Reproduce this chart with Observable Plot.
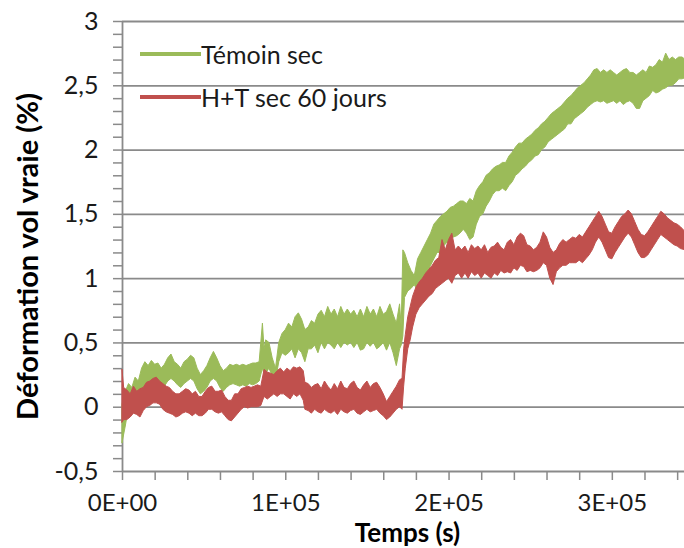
<!DOCTYPE html>
<html>
<head>
<meta charset="utf-8">
<script src="https://cdn.jsdelivr.net/npm/d3@7"></script>
<script src="https://cdn.jsdelivr.net/npm/@observablehq/plot@0.6"></script>
<style>
  html, body { margin: 0; padding: 0; background: #fff; }
  #wrap { position: relative; width: 684px; height: 548px; font-family: Lato, "Open Sans", sans-serif; }
  #legend { position: absolute; left: 140px; top: 32px; font-size: 25px; color: #1a1a1a; }
  #legend .row { display: flex; align-items: center; height: 43px; }
  #legend .sw { width: 61px; height: 4px; margin-right: 0px; }
</style>
</head>
<body>
<div id="wrap"><div id="chart"></div><div id="legend"></div></div>
<script>
// Series names and colours
const seriesNames = ["Témoin sec", "H+T sec 60 jours"];
const seriesColors = ["#9BBB59", "#C0504D"];

// Témoin sec: time (ks), lower and upper edge of the noisy band (%)
const greenT = [0,2,4,6,8,10,12,14,16,18,20,22,24,26,28,30,32,34,36,38,40,42,44,46,48,50,52,54,56,58,60,62,64,66,68,70,72,74,76,78,80,82,84,86,87,88,90,92,94,96,98,100,102,104,106,108,110,112,114,116,118,120,122,124,126,128,130,132,134,136,138,140,142,144,146,148,150,152,154,156,158,160,162,164,166,168,170,171,172,173,175,177,179,181,183,185,187,189,191,193,195,197,199,201,203,205,207,209,211,213,215,217,219,221,223,225,227,229,231,233,235,237,239,241,243,245,247,249,251,253,255,257,259,261,263,265,267,269,271,273,275,277,279,281,283,285,287,289,291,293,295,297,299,301,303,305,307,309,311,313,315,317,319,321,323,325,327,329,331,333,335,337,339,341,343,345];
const greenLo = [-0.28,-0.15,0.0,0.05,0.08,0.05,0.1,0.15,0.18,0.2,0.18,0.17,0.18,0.16,0.2,0.22,0.2,0.17,0.15,0.18,0.2,0.22,0.2,0.14,0.1,0.12,0.15,0.2,0.22,0.2,0.15,0.12,0.15,0.17,0.18,0.17,0.16,0.17,0.16,0.18,0.17,0.18,0.2,0.3,0.25,0.26,0.3,0.24,0.2,0.35,0.42,0.4,0.42,0.45,0.38,0.45,0.42,0.35,0.45,0.45,0.48,0.42,0.5,0.45,0.5,0.48,0.45,0.5,0.46,0.5,0.48,0.5,0.46,0.5,0.44,0.45,0.5,0.47,0.5,0.45,0.47,0.5,0.44,0.5,0.42,0.32,0.45,0.48,0.55,0.85,0.9,0.92,0.95,0.9,0.95,1.0,1.05,1.1,1.15,1.2,1.2,1.25,1.28,1.3,1.32,1.33,1.35,1.38,1.35,1.3,1.32,1.42,1.48,1.5,1.56,1.6,1.65,1.68,1.68,1.7,1.68,1.72,1.75,1.8,1.82,1.85,1.87,1.9,1.92,1.95,1.96,2.0,2.02,2.06,2.08,2.1,2.12,2.14,2.16,2.2,2.2,2.24,2.26,2.28,2.3,2.33,2.35,2.37,2.38,2.37,2.38,2.36,2.37,2.38,2.36,2.38,2.35,2.37,2.38,2.36,2.32,2.32,2.38,2.4,2.42,2.46,2.44,2.45,2.47,2.48,2.5,2.5,2.52,2.55,2.55,2.56];
const greenHi = [0.02,0.12,0.18,0.15,0.23,0.2,0.3,0.35,0.32,0.36,0.33,0.34,0.3,0.33,0.38,0.41,0.35,0.33,0.3,0.35,0.37,0.4,0.38,0.3,0.25,0.28,0.32,0.38,0.43,0.38,0.32,0.28,0.3,0.33,0.32,0.33,0.32,0.33,0.32,0.33,0.34,0.34,0.35,0.65,0.45,0.52,0.5,0.38,0.3,0.5,0.57,0.6,0.65,0.62,0.7,0.73,0.68,0.6,0.62,0.67,0.65,0.72,0.75,0.7,0.78,0.72,0.76,0.7,0.78,0.72,0.76,0.72,0.75,0.7,0.76,0.7,0.78,0.72,0.76,0.7,0.78,0.72,0.74,0.8,0.72,0.65,0.8,0.62,1.22,1.2,1.12,1.06,1.02,1.15,1.2,1.25,1.3,1.35,1.42,1.45,1.48,1.5,1.52,1.55,1.56,1.58,1.6,1.6,1.58,1.62,1.6,1.68,1.72,1.75,1.8,1.82,1.85,1.87,1.88,1.9,1.9,1.95,1.98,2.02,2.05,2.05,2.08,2.1,2.12,2.15,2.17,2.2,2.22,2.25,2.28,2.3,2.32,2.34,2.37,2.4,2.42,2.45,2.48,2.5,2.52,2.55,2.58,2.62,2.63,2.6,2.62,2.6,2.62,2.6,2.58,2.6,2.62,2.63,2.6,2.6,2.58,2.6,2.62,2.6,2.65,2.64,2.66,2.7,2.68,2.75,2.7,2.72,2.7,2.72,2.72,2.7];

// H+T sec 60 jours: time (ks), lower and upper edge of the noisy band (%)
const redT = [0,1,3,5,7,9,11,13,15,17,19,21,23,25,27,29,31,33,35,37,39,41,43,45,47,49,51,53,55,57,59,61,63,65,67,69,71,73,75,77,79,81,83,85,87,89,91,93,95,97,99,101,103,105,107,109,111,112,114,116,118,120,122,124,126,128,130,132,134,136,138,140,142,144,146,148,150,152,154,156,158,160,162,164,166,168,170,171.5,172.5,173.5,175,176.5,178,180,182,184,186,188,190,192,194,196,198,200,202,204,206,208,210,212,214,216,218,220,222,224,226,228,230,232,234,236,238,240,242,244,246,248,250,252,254,256,258,260,262,264,266,268,270,272,274,276,278,280,282,284,286,288,290,292,294,296,298,300,302,304,306,308,310,312,314,316,318,320,322,324,326,328,330,332,334,336,338,340,342,345];
const redLo = [-0.12,-0.1,-0.1,-0.08,-0.05,-0.06,-0.08,-0.03,0.0,0.01,0.03,0.03,0.02,-0.02,-0.04,-0.05,-0.06,-0.08,-0.07,-0.05,-0.04,-0.05,-0.07,-0.05,-0.07,-0.07,-0.05,-0.02,-0.02,-0.04,-0.05,-0.04,-0.07,-0.1,-0.11,-0.08,-0.05,-0.02,0.0,-0.01,0.0,0.0,0.0,0.01,0.08,0.06,0.08,0.1,0.08,0.1,0.1,0.08,0.06,0.1,0.08,0.1,0.05,-0.02,-0.03,-0.05,-0.02,-0.04,-0.05,-0.02,-0.04,-0.05,-0.03,-0.06,-0.02,-0.04,-0.05,-0.03,-0.02,-0.05,-0.06,-0.04,-0.02,-0.04,-0.03,-0.02,-0.05,-0.07,-0.1,-0.08,-0.05,-0.02,0.0,-0.02,0.16,0.3,0.45,0.52,0.62,0.72,0.77,0.8,0.83,0.86,0.88,0.92,0.94,0.96,0.98,1.0,0.96,1.02,1.04,1.0,1.04,1.0,1.05,1.02,1.04,1.0,1.04,1.02,1.0,1.04,1.02,1.06,1.04,1.05,1.04,1.08,1.06,1.1,1.09,1.05,1.06,1.05,1.06,1.08,1.12,1.1,1.0,0.95,1.05,1.08,1.1,1.1,1.12,1.12,1.12,1.14,1.12,1.15,1.18,1.22,1.28,1.32,1.28,1.22,1.16,1.15,1.2,1.24,1.28,1.32,1.35,1.32,1.26,1.2,1.16,1.16,1.18,1.22,1.26,1.3,1.34,1.32,1.3,1.28,1.26,1.25,1.23,1.22];
const redHi = [0.29,0.15,0.13,0.1,0.16,0.12,0.14,0.15,0.19,0.2,0.22,0.23,0.2,0.18,0.16,0.15,0.12,0.1,0.1,0.12,0.14,0.13,0.1,0.12,0.08,0.08,0.12,0.15,0.16,0.12,0.12,0.13,0.08,0.05,0.05,0.1,0.1,0.14,0.15,0.16,0.15,0.16,0.17,0.16,0.29,0.27,0.26,0.25,0.28,0.3,0.27,0.3,0.28,0.31,0.3,0.31,0.28,0.19,0.18,0.15,0.17,0.18,0.14,0.2,0.16,0.13,0.18,0.14,0.2,0.15,0.14,0.18,0.2,0.15,0.13,0.17,0.2,0.15,0.18,0.19,0.15,0.1,0.04,0.08,0.12,0.16,0.21,0.22,0.45,0.56,0.7,0.78,0.86,0.93,0.97,1.0,1.04,1.07,1.1,1.14,1.16,1.3,1.22,1.3,1.35,1.22,1.25,1.22,1.25,1.2,1.26,1.23,1.25,1.22,1.26,1.2,1.24,1.25,1.28,1.24,1.22,1.28,1.3,1.26,1.32,1.35,1.33,1.26,1.25,1.22,1.24,1.28,1.36,1.32,1.24,1.2,1.22,1.27,1.3,1.28,1.3,1.32,1.31,1.34,1.32,1.36,1.4,1.44,1.48,1.52,1.48,1.42,1.36,1.35,1.4,1.44,1.48,1.5,1.53,1.5,1.44,1.38,1.34,1.33,1.36,1.4,1.44,1.48,1.52,1.5,1.47,1.45,1.43,1.42,1.4,1.36];

// Axis ticks
const yMajor = [-0.5, 0, 0.5, 1, 1.5, 2, 2.5, 3];
const yTickIdx = d3.range(-5, 31);           // minor ticks every 0.1
const xTickIdx = d3.range(0, 18);            // ticks every 2E+04 s
const xLabels = {0: "0E+00", 100000: "1E+05", 200000: "2E+05", 300000: "3E+05"};
const xTitle = "Temps (s)";
const yTitle = "Déformation vol vraie (%)";

const green = greenT.map((t, i) => ({t: t * 1000, lo: greenLo[i], hi: greenHi[i]}));
const red = redT.map((t, i) => ({t: t * 1000, lo: redLo[i], hi: redHi[i]}));
const yTicks = yTickIdx.map(i => i / 10);
const xTicks = xTickIdx.map(i => i * 20000);
const fmtY = v => {
  const r = Math.round(v * 10);
  if (r % 5 !== 0) return "";
  return String(r / 10).replace(".", ",");
};

const grid = "#8a8a8a";
const chart = Plot.plot({
  width: 684,
  height: 548,
  marginLeft: 122,
  marginRight: 0,
  marginTop: 21,
  marginBottom: 77,
  style: {fontFamily: "Lato, 'Open Sans', sans-serif", fontSize: "25px", color: "#1a1a1a", background: "#fff"},
  x: {domain: [0, 344200]},
  y: {domain: [-0.5, 3]},
  marks: [
    Plot.ruleY(yMajor, {stroke: grid, strokeWidth: 1.8}),
    Plot.ruleX([0], {stroke: grid, strokeWidth: 1.8}),
    Plot.axisY(yTicks, {tickSize: 9, tickPadding: 15, tickFormat: fmtY, stroke: grid, strokeWidth: 1.5, fill: "#1a1a1a", label: null, fontSize: 25}),
    Plot.axisX(xTicks, {tickSize: 9, tickPadding: 13, tickFormat: d => xLabels[d] ?? "", stroke: grid, strokeWidth: 1.5, fill: "#1a1a1a", label: null, fontSize: 24}),
    Plot.areaY(green, {x: "t", y1: "lo", y2: "hi", fill: seriesColors[0], stroke: seriesColors[0], strokeWidth: 1}),
    Plot.areaY(red, {x: "t", y1: "lo", y2: "hi", fill: seriesColors[1], stroke: seriesColors[1], strokeWidth: 1}),
    Plot.text([yTitle], {frameAnchor: "left", textAnchor: "middle", lineAnchor: "middle", dx: -94, dy: 10, rotate: -90, fontWeight: "bold", fontSize: 29, fill: "#000"}),
    Plot.text([xTitle], {frameAnchor: "bottom", textAnchor: "middle", lineAnchor: "middle", dx: 4, dy: 62, fontWeight: "bold", fontSize: 26, fill: "#000"})
  ]
});
document.getElementById("chart").appendChild(chart);

const legend = document.getElementById("legend");
seriesNames.forEach((name, i) => {
  const row = document.createElement("div");
  row.className = "row";
  const sw = document.createElement("div");
  sw.className = "sw";
  sw.style.background = seriesColors[i];
  const label = document.createElement("span");
  label.textContent = name;
  row.appendChild(sw);
  row.appendChild(label);
  legend.appendChild(row);
});
</script>
</body>
</html>
